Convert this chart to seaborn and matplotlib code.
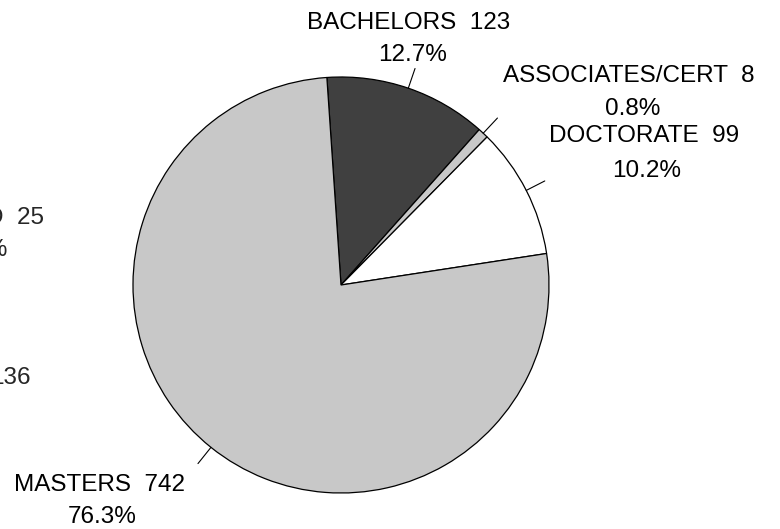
import numpy as np
import matplotlib
matplotlib.use("Agg")
import matplotlib.pyplot as plt
import seaborn as sns

# Degree counts, listed clockwise from the top of the pie
categories = ["BACHELORS", "ASSOCIATES/CERT", "DOCTORATE", "MASTERS"]
counts = [123, 8, 99, 742]
colors = ["#404040", "#c8c8c8", "#ffffff", "#c8c8c8"]

# Label anchors (data units of the unit pie): name/count line and percent line
label_pos = {
    "BACHELORS": ((0.327, 1.260), (0.346, 1.106)),
    "ASSOCIATES/CERT": ((1.385, 1.005), (1.404, 0.845)),
    "DOCTORATE": ((1.457, 0.716), (1.467, 0.548)),
    "MASTERS": ((-1.159, -0.962), (-1.149, -1.115)),
}

sns.set_theme(style="white")
plt.rcParams["font.family"] = ["Liberation Sans", "DejaVu Sans"]

W, H = 780, 529
fig = plt.figure(figsize=(W / 100, H / 100), dpi=100)
fig.patch.set_facecolor("white")

cx, cy, R = 341, 285, 208
ax = fig.add_axes([(cx - R) / W, (H - cy - R) / H, 2 * R / W, 2 * R / H])

total = sum(counts)
start = 93.9
wedges, _ = ax.pie(
    counts, colors=colors, startangle=start, counterclock=False, radius=1,
    wedgeprops=dict(edgecolor="black", linewidth=0.9),
)
ax.set_xlim(-1, 1)
ax.set_ylim(-1, 1)
ax.set_aspect("equal")
ax.axis("off")

fs = 17.5
for w, name, n in zip(wedges, categories, counts):
    mid = np.deg2rad((w.theta1 + w.theta2) / 2)
    x0, y0 = np.cos(mid), np.sin(mid)
    ax.plot([x0, 1.1 * x0], [y0, 1.1 * y0], color="black", lw=0.8, clip_on=False)
    (tx1, ty1), (tx2, ty2) = label_pos[name]
    ax.text(tx1, ty1, f"{name}  {n}", ha="center", va="center", fontsize=fs,
            color="black", clip_on=False)
    ax.text(tx2, ty2, f"{100 * n / total:.1f}%", ha="center", va="center",
            fontsize=fs, color="black", clip_on=False)

# Labels of a neighbouring panel running off the left edge
def px(x, y):
    return x / W, 1 - y / H

fig.text(*px(44, 218), "D  25", ha="right", va="center", fontsize=fs)
fig.text(*px(8, 250), "2.6%", ha="right", va="center", fontsize=fs)
fig.text(*px(31, 378), "136", ha="right", va="center", fontsize=fs)

fig.savefig("out.png", dpi=100, facecolor="white")
